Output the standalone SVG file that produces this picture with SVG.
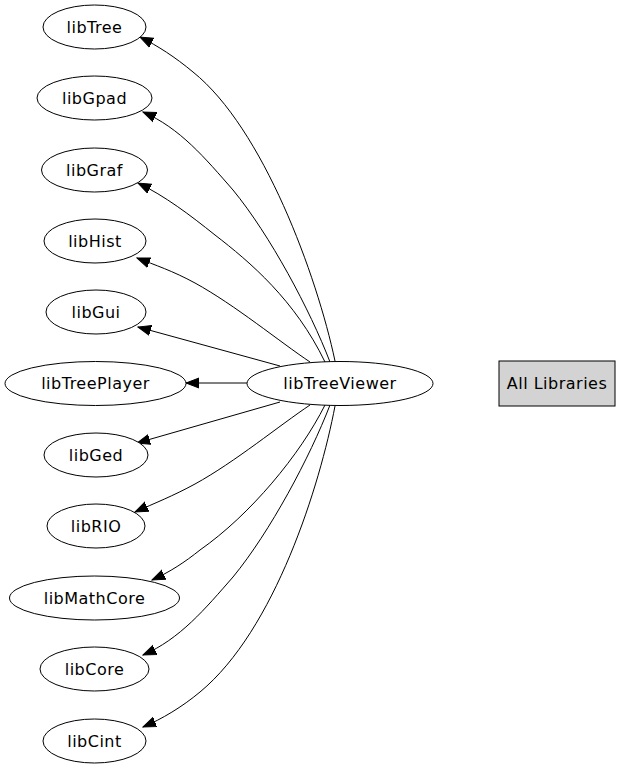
<svg xmlns="http://www.w3.org/2000/svg" width="623" height="768" viewBox="0 0 623 768">
<style>
.n ellipse{fill:#fff;stroke:#000;stroke-width:1}
text{font-family:"DejaVu Sans",sans-serif;font-size:16px;letter-spacing:0.5px;text-anchor:middle;fill:#000}
.e path{fill:none;stroke:#000;stroke-width:1;marker-end:url(#a)}
</style>
<defs>
<marker id="a" markerWidth="14" markerHeight="12" refX="13" refY="5" orient="auto" markerUnits="userSpaceOnUse" viewBox="0 0 14 10">
<polygon points="0,0 13,5 0,10" fill="#000" stroke="#000"/>
</marker>
</defs>
<rect width="623" height="768" fill="#fff"/>
<g class="e" id="edges">
<path d="M335,361 C317,276 263,128 193,72 C175,57 158,46 140,37"/>
<path d="M330,362 C310,310 270,235 233,190 C205,158 180,128 143,112"/>
<path d="M325,362 C295,300 250,262 215,235 C190,215 165,196 138,183"/>
<path d="M310,362 C280,342 235,305 195,283 C173,271 155,265 137,258"/>
<path d="M280,366 L138,327"/>
<path d="M247,383 L186,383"/>
<path d="M280,402 L137,443"/>
<path d="M310,405 C280,425 235,462 195,484 C173,496 155,503 135,512"/>
<path d="M325,405 C300,455 250,515 200,550 C185,562 170,572 152,580"/>
<path d="M330,405 C310,457 270,532 233,577 C205,609 180,639 143,655"/>
<path d="M335,406 C320,485 275,630 200,692 C182,707 162,719 143,727"/>
</g>
<g class="n" id="libTree"><ellipse cx="94.5" cy="27" rx="51.5" ry="22"/><text x="94.5" y="32.5">libTree</text></g>
<g class="n" id="libGpad"><ellipse cx="94.5" cy="98" rx="57.5" ry="22"/><text x="94.5" y="103.5">libGpad</text></g>
<g class="n" id="libGraf"><ellipse cx="94.5" cy="170" rx="53" ry="22"/><text x="94.5" y="175.5">libGraf</text></g>
<g class="n" id="libHist"><ellipse cx="95" cy="241" rx="51" ry="22"/><text x="95" y="246.5">libHist</text></g>
<g class="n" id="libGui"><ellipse cx="96" cy="312" rx="50" ry="22"/><text x="96" y="317.5">libGui</text></g>
<g class="n" id="libTreePlayer"><ellipse cx="95.5" cy="383.5" rx="90.5" ry="22"/><text x="95.5" y="389">libTreePlayer</text></g>
<g class="n" id="libGed"><ellipse cx="96" cy="455" rx="52" ry="22"/><text x="96" y="460.5">libGed</text></g>
<g class="n" id="libRIO"><ellipse cx="96" cy="526" rx="49" ry="22"/><text x="96" y="531.5">libRIO</text></g>
<g class="n" id="libMathCore"><ellipse cx="94.5" cy="598" rx="85" ry="22"/><text x="94.5" y="603.5">libMathCore</text></g>
<g class="n" id="libCore"><ellipse cx="94.5" cy="669" rx="54.5" ry="22"/><text x="94.5" y="674.5">libCore</text></g>
<g class="n" id="libCint"><ellipse cx="94.5" cy="741" rx="51.5" ry="22"/><text x="94.5" y="746.5">libCint</text></g>
<g class="n" id="libTreeViewer"><ellipse cx="340" cy="383.5" rx="93" ry="22"/><text x="340" y="389">libTreeViewer</text></g>
<g id="AllLibraries"><rect x="499" y="361" width="116" height="45" fill="#d3d3d3" stroke="#000"/><text x="557" y="389">All Libraries</text></g>
</svg>
